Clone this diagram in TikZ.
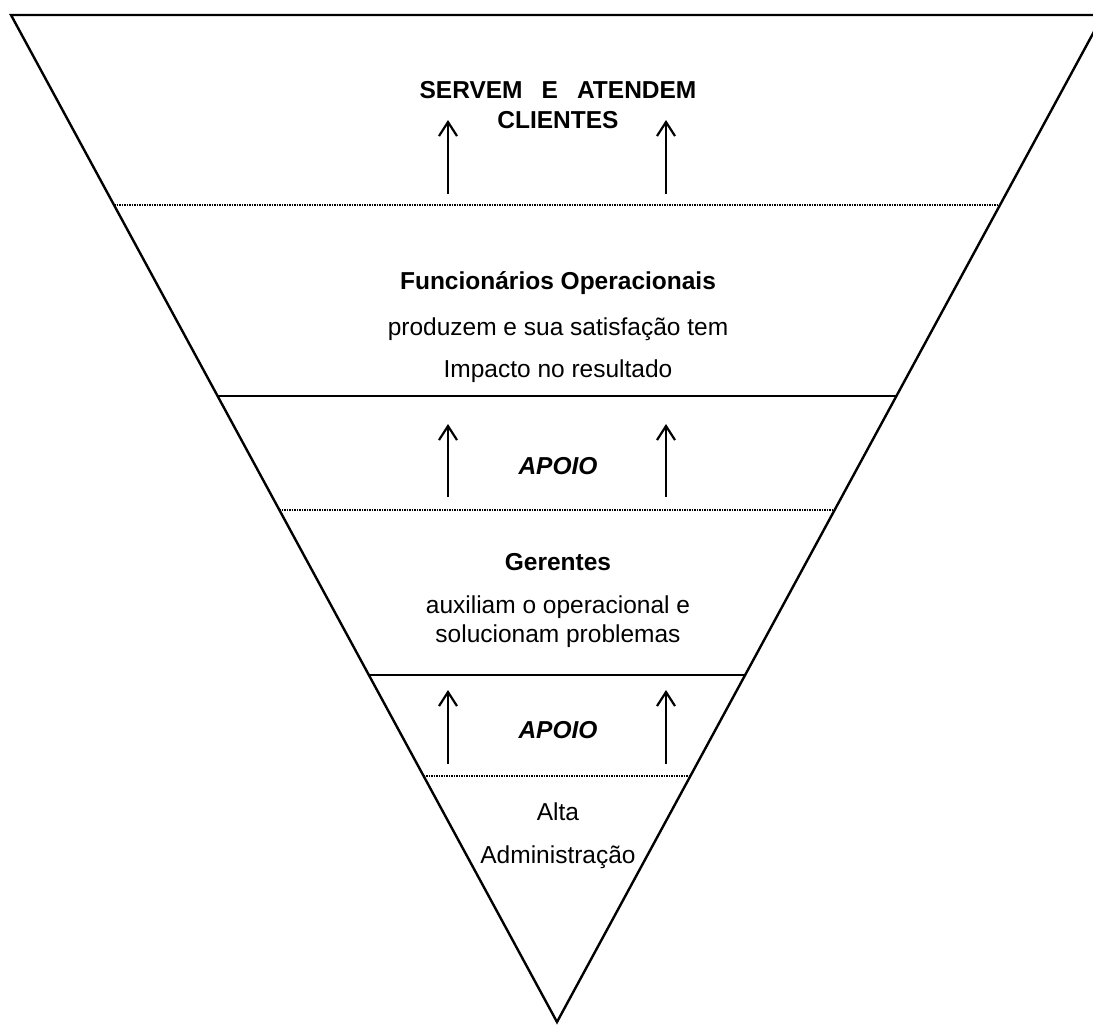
\documentclass[tikz,border=0pt]{standalone}
\usepackage{fontspec}
\setmainfont{Liberation Sans}
\usetikzlibrary{calc,positioning,arrows.meta}

\begin{document}
\begin{tikzpicture}[x=1pt,y=-1pt,line width=2.2pt,>={Straight Barb[length=14pt,width=18pt]}]
    \tikzset{txt/.style={inner sep=0pt,font=\fontsize{24.5}{29}\selectfont},
      bold/.style={inner sep=0pt,font=\fontsize{24.5}{29}\selectfont\bfseries},
      apoio/.style={inner sep=0pt,font=\fontsize{24.5}{29}\selectfont\bfseries\itshape},
      sep/.style={line width=2pt},
      dots/.style={line width=1.5pt,densely dotted}}
    \useasboundingbox (0,0) rectangle (1093,1026);
    \clip (0,0) rectangle (1093,1026);
    % the inverted pyramid
    \coordinate (tl) at (11,15);
    \coordinate (tr) at (1103,15);
    \coordinate (bt) at (557,1022);
    \draw[line width=2.4pt] (tl) -- (tr) -- (bt) -- cycle;
    % levels
    \draw[dots] ($(tl)!0.1887!(bt)$) -- ($(tr)!0.1887!(bt)$);
    \draw[sep] ($(tl)!0.3784!(bt)$) -- ($(tr)!0.3784!(bt)$);
    \draw[dots] ($(tl)!0.4916!(bt)$) -- ($(tr)!0.4916!(bt)$);
    \draw[sep] ($(tl)!0.6554!(bt)$) -- ($(tr)!0.6554!(bt)$);
    \draw[dots] ($(tl)!0.7557!(bt)$) -- ($(tr)!0.7557!(bt)$);
    % texts
    \node[bold] (clients) at (558,90) {SERVEM\hspace{0.5em} E\hspace{0.5em} ATENDEM};
    \node[bold] (clients2) at (558,120) {CLIENTES};
    \node[bold] (oper) at (558,283) {Funcionários Operacionais};
    \node[txt] (oper2) at (558,329) {produzem e sua satisfação tem};
    \node[txt] (oper3) at (558,371) {Impacto no resultado};
    \node[apoio] (apoio1) at (558,466) {APOIO};
    \node[bold] (ger) at (558,562) {Gerentes};
    \node[txt] (ger2) at (558,607) {auxiliam o operacional e};
    \node[txt] (ger3) at (558,636) {solucionam problemas};
    \node[apoio] (apoio2) at (558,730) {APOIO};
    \node[txt] (adm) at (558,812) {Alta};
    \node[txt] (adm2) at (558,857) {Administração};
    % arrows
    \foreach \x in {448,666} {
      \coordinate (a\x) at (\x,194);  \coordinate (b\x) at (\x,120);
      \coordinate (c\x) at (\x,497);  \coordinate (d\x) at (\x,424);
      \coordinate (e\x) at (\x,764);  \coordinate (f\x) at (\x,690);
      \draw[->] (a\x) -- (b\x);
      \draw[->] (c\x) -- (d\x);
      \draw[->] (e\x) -- (f\x);
    }
\end{tikzpicture}
\end{document}
